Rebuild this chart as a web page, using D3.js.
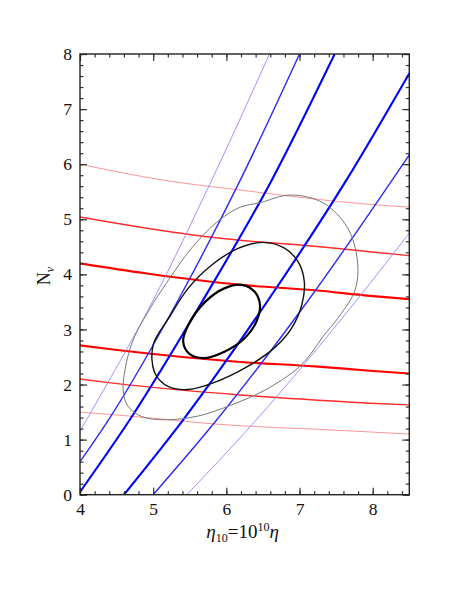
<!DOCTYPE html>
<html>
<head>
<meta charset="utf-8">
<script src="https://cdn.jsdelivr.net/npm/d3@7"></script>
<style>
  body { margin: 0; background: #fff; }
  svg { display: block; }
  text { font-family: "Liberation Serif", "DejaVu Serif", serif; }
</style>
</head>
<body>
<svg id="chart" width="450" height="602"></svg>
<script>
// axis ticks
const xMajor = [4, 5, 6, 7, 8];
const yMajor = [0, 1, 2, 3, 4, 5, 6, 7, 8];
const xMinor = d3.range(40, 86, 2).map(d => d / 10);
const yMinor = d3.range(0, 81, 2).map(d => d / 10);

// red curves (eta10, N) - thin, medium, thick, thick, medium, thin
const red1 = [[4, 6.0], [5.14, 5.71], [6.19, 5.53], [7.96, 5.27], [8.5, 5.22]];
const red2 = [[4, 5.04], [5.57, 4.71], [6.19, 4.62], [7.21, 4.51], [7.96, 4.41], [8.5, 4.34]];
const red3 = [[4, 4.2], [4.89, 4.02], [6.19, 3.81], [7.21, 3.71], [7.96, 3.61], [8.5, 3.55]];
const red4 = [[4, 2.71], [4.48, 2.63], [6.19, 2.41], [7.21, 2.33], [7.96, 2.25], [8.5, 2.2]];
const red5 = [[4, 2.1], [4.48, 2.02], [6.19, 1.81], [7.21, 1.72], [7.96, 1.66], [8.5, 1.63]];
const red6 = [[4, 1.5], [4.48, 1.45], [6.19, 1.25], [7.21, 1.19], [8.5, 1.1]];

// blue curves
const blue1 = [[4, 1.15], [4.09, 1.36], [5.0, 3.53], [5.8, 5.71], [6.59, 8]];
const blue2 = [[4, 0.6], [4.39, 1.36], [5.34, 3.53], [6.19, 5.71], [7.0, 8]];
const blue3 = [[4, 0.05], [4.68, 1.36], [5.68, 3.53], [6.62, 5.71], [7.48, 8]];
const blue4 = [[4.6, 0], [5.41, 1.36], [6.57, 3.53], [7.64, 5.71], [8.5, 7.65]];
const blue5 = [[5.0, 0], [5.87, 1.36], [7.12, 3.53], [8.5, 6.17]];
const blue6 = [[5.46, 0], [6.41, 1.36], [7.78, 3.53], [8.5, 4.75]];

// likelihood contours
const contourInner = [[6.21, 3.81], [6.39, 3.68], [6.46, 3.44], [6.41, 3.14], [6.25, 2.84], [5.98, 2.6],
  [5.7, 2.48], [5.5, 2.55], [5.41, 2.78], [5.48, 3.08], [5.71, 3.5], [5.98, 3.75]];
const contourMiddle = [[6.51, 4.58], [6.8, 4.47], [6.98, 4.23], [7.065, 3.87], [7.03, 3.44], [6.89, 3.02],
  [6.66, 2.67], [6.28, 2.32], [5.84, 2.04], [5.48, 1.91], [5.21, 1.96], [5.02, 2.22], [5.0, 2.72],
  [5.21, 3.2], [5.48, 3.75], [5.8, 4.17], [6.16, 4.47]];
const contourOuter = [[6.46, 5.3], [6.87, 5.44], [7.32, 5.3], [7.65, 4.86], [7.79, 4.26], [7.76, 3.72],
  [7.55, 3.25], [7.32, 2.87], [7.15, 2.55], [6.98, 2.3], [6.53, 1.9], [6.07, 1.63], [5.62, 1.43],
  [5.16, 1.36], [4.84, 1.42], [4.66, 1.6], [4.59, 1.9], [4.7, 2.72], [4.93, 3.32], [5.09, 3.66],
  [5.54, 4.5], [5.91, 4.99], [6.19, 5.22]];

const svg = d3.select('#chart');
const plotLeft = 80, plotRight = 409.3, plotTop = 54, plotBottom = 494.7;

const x = d3.scaleLinear().domain([4, 8.5]).range([plotLeft, plotRight]);
const y = d3.scaleLinear().domain([0, 8]).range([plotBottom, plotTop]);

svg.append('defs').append('clipPath').attr('id', 'plotClip')
  .append('rect')
  .attr('x', plotLeft).attr('y', plotTop)
  .attr('width', plotRight - plotLeft).attr('height', plotBottom - plotTop);

const plot = svg.append('g').attr('clip-path', 'url(#plotClip)');

const lineGen = d3.line().x(d => x(d[0])).y(d => y(d[1])).curve(d3.curveMonotoneX);
const closedGen = d3.line().x(d => x(d[0])).y(d => y(d[1])).curve(d3.curveCatmullRomClosed.alpha(0.5));

const thinW = 0.9, mediumW = 1.4, thickW = 2.1;

const redSet = [
  { d: red1, c: '#ff8a8a', w: thinW },
  { d: red2, c: '#ff2a2a', w: mediumW },
  { d: red3, c: '#ff0000', w: thickW },
  { d: red4, c: '#ff0000', w: thickW },
  { d: red5, c: '#ff2a2a', w: mediumW },
  { d: red6, c: '#ff8a8a', w: thinW }
];
const blueSet = [
  { d: blue1, c: '#8a8aff', w: thinW },
  { d: blue2, c: '#2a2aff', w: mediumW },
  { d: blue3, c: '#0000ff', w: thickW },
  { d: blue4, c: '#0000ff', w: thickW },
  { d: blue5, c: '#2a2aff', w: mediumW },
  { d: blue6, c: '#8a8aff', w: thinW }
];

plot.selectAll('path.red')
  .data(redSet)
  .enter()
  .append('path')
  .attr('class', 'red')
  .attr('d', s => lineGen(s.d))
  .attr('fill', 'none')
  .attr('stroke', s => s.c)
  .attr('stroke-width', s => s.w);

plot.selectAll('path.blue')
  .data(blueSet)
  .enter()
  .append('path')
  .attr('class', 'blue')
  .attr('d', s => lineGen(s.d))
  .attr('fill', 'none')
  .attr('stroke', s => s.c)
  .attr('stroke-width', s => s.w);

const contours = [
  { d: contourOuter, c: '#777777', w: 1.0 },
  { d: contourMiddle, c: '#111111', w: 1.4 },
  { d: contourInner, c: '#000000', w: 2.2 }
];

plot.selectAll('path.contour')
  .data(contours)
  .enter()
  .append('path')
  .attr('class', 'contour')
  .attr('d', s => closedGen(s.d))
  .attr('fill', 'none')
  .attr('stroke', s => s.c)
  .attr('stroke-width', s => s.w);

// axes: ticks point inward on all four sides
const fs = 17.5;
function styleAxis(g) {
  g.attr('font-family', '"Liberation Serif", "DejaVu Serif", serif');
  g.select('.domain').remove();
  g.selectAll('.tick line').attr('stroke', '#333').attr('stroke-width', 1.2);
  g.selectAll('.tick text').attr('font-size', fs).attr('fill', '#111');
}

svg.append('g').attr('transform', `translate(0,${plotBottom})`)
  .call(d3.axisBottom(x).tickValues(xMinor).tickSize(-3.5).tickFormat(''))
  .call(styleAxis);
svg.append('g').attr('transform', `translate(0,${plotBottom})`)
  .call(d3.axisBottom(x).tickValues(xMajor).tickSize(-7).tickPadding(8).tickFormat(d3.format('d')))
  .call(styleAxis);
svg.append('g').attr('transform', `translate(0,${plotTop})`)
  .call(d3.axisTop(x).tickValues(xMinor).tickSize(-3.5).tickFormat(''))
  .call(styleAxis);
svg.append('g').attr('transform', `translate(0,${plotTop})`)
  .call(d3.axisTop(x).tickValues(xMajor).tickSize(-7).tickFormat(''))
  .call(styleAxis);

svg.append('g').attr('transform', `translate(${plotLeft},0)`)
  .call(d3.axisLeft(y).tickValues(yMinor).tickSize(-3.5).tickFormat(''))
  .call(styleAxis);
svg.append('g').attr('transform', `translate(${plotLeft},0)`)
  .call(d3.axisLeft(y).tickValues(yMajor).tickSize(-7).tickPadding(8).tickFormat(d3.format('d')))
  .call(styleAxis);
svg.append('g').attr('transform', `translate(${plotRight},0)`)
  .call(d3.axisRight(y).tickValues(yMinor).tickSize(-3.5).tickFormat(''))
  .call(styleAxis);
svg.append('g').attr('transform', `translate(${plotRight},0)`)
  .call(d3.axisRight(y).tickValues(yMajor).tickSize(-7).tickFormat(''))
  .call(styleAxis);

svg.append('rect')
  .attr('x', plotLeft).attr('y', plotTop)
  .attr('width', plotRight - plotLeft).attr('height', plotBottom - plotTop)
  .attr('fill', 'none')
  .attr('stroke', '#222')
  .attr('stroke-width', 1.4);

// axis titles
const xt = svg.append('text')
  .attr('x', (plotLeft + plotRight) / 2 - 2)
  .attr('y', 538)
  .attr('text-anchor', 'middle')
  .attr('font-size', 19)
  .attr('fill', '#111');
xt.append('tspan').attr('font-style', 'italic').text('η');
xt.append('tspan').attr('font-size', 12).attr('dy', 4).text('10');
xt.append('tspan').attr('dy', -4).text('=10');
xt.append('tspan').attr('font-size', 12).attr('dy', -7).text('10');
xt.append('tspan').attr('dy', 7).attr('font-style', 'italic').text('η');

const yt = svg.append('text')
  .attr('transform', 'translate(50,276) rotate(-90)')
  .attr('text-anchor', 'middle')
  .attr('font-size', 18)
  .attr('fill', '#111');
yt.append('tspan').text('N');
yt.append('tspan').attr('font-size', 12).attr('dy', 4).attr('font-style', 'italic').text('ν');
</script>
</body>
</html>
